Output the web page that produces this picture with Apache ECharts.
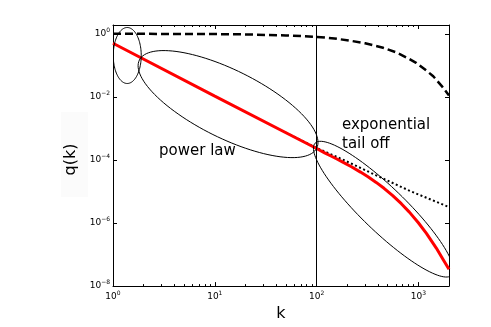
<!DOCTYPE html>
<html>
<head>
<meta charset="utf-8" />
<title>q(k)</title>
<script src="https://cdn.jsdelivr.net/npm/echarts@6/dist/echarts.min.js"></script>
<style>
    html, body { margin: 0; padding: 0; background: #fff; }
    #chart { width: 491px; height: 327px; }
</style>
</head>
<body>
<div id="chart"></div>
<script>
    // values
    const dashK = [1, 5, 10, 20, 50, 100, 150, 210, 300, 450, 600, 800, 950, 1200, 1400, 1700, 2000];
    const dashQ = [1.0, 0.99, 0.98, 0.955, 0.89, 0.80, 0.71, 0.61, 0.50, 0.36, 0.26, 0.165, 0.12, 0.068, 0.045, 0.022, 0.011];

    const redK = [1, 10, 100, 120, 140, 160, 181, 220, 270, 320, 385, 460, 560, 680, 816, 1000, 1200, 1500, 1750, 2000];
    const redQ = [0.5, 0.0106, 2.3e-4, 1.68e-4, 1.31e-4, 1.05e-4, 8.5e-5, 6.07e-5, 4.12e-5, 2.92e-5, 1.94e-5, 1.26e-5,
        7.4e-6, 4.1e-6, 2.22e-6, 1.02e-6, 4.69e-7, 1.61e-7, 7.0e-8, 3.4e-8];

    const dotK = [50, 100, 181, 385, 816, 2000];
    const dotQ = [7.4e-4, 2.4e-4, 1.03e-4, 3.25e-5, 1.06e-5, 3.2e-6];

    const cutoffK = 100;

    // ellipse centres (data coords)
    const ellipseK = [1.38, 13.5, 454];
    const ellipseQ = [0.205, 5.9e-3, 2.75e-6];
    // ellipse shapes in pixels: semi axes and tilt (deg, clockwise on screen)
    const ellipseShape = [
        { a: 14, b: 28, tilt: 0 },
        { a: 99, b: 34, tilt: 26.4 },
        { a: 95, b: 22, tilt: 44 }
    ];

    const xMajor = [1, 10, 100, 1000];
    const xMinor = [2, 3, 4, 5, 6, 7, 8, 9, 20, 30, 40, 50, 60, 70, 80, 90, 200, 300, 400, 500, 600, 700, 800, 900];
    const yMajor = [1e-8, 1e-6, 1e-4, 1e-2, 1];

    const font = 'DejaVu Sans';

    function zip(a, b) {
        return a.map((v, i) => [v, b[i]]);
    }

    function powLabel(v) {
        const e = Math.log10(v);
        const r = Math.round(e);
        if (Math.abs(e - r) > 1e-6) return '';
        return '{b|10}{s|' + (r < 0 ? '\u2212' + (-r) : r) + '}';
    }

    const labelRich = {
        b: { fontSize: 9, fontFamily: font, color: '#000', verticalAlign: 'middle', lineHeight: 13 },
        s: { fontSize: 6, fontFamily: font, color: '#000', verticalAlign: 'top', lineHeight: 13 }
    };

    function xAxisDef(pos, ticks, len, withLine, withLabel) {
        return {
            type: 'log', position: pos, min: 1, max: 2000,
            axisLine: { show: withLine, lineStyle: { color: '#000', width: 1 } },
            axisTick: { show: true, inside: true, length: len, customValues: ticks, lineStyle: { color: '#000' } },
            axisLabel: withLabel ? { show: true, customValues: ticks, formatter: powLabel, rich: labelRich, margin: 4 } : { show: false },
            splitLine: { show: false }
        };
    }

    function yAxisDef(pos, withLabel) {
        return {
            type: 'log', position: pos, min: 1e-8, max: 1.9,
            axisLine: { show: true, lineStyle: { color: '#000', width: 1 } },
            axisTick: { show: true, inside: true, length: 4, customValues: yMajor, lineStyle: { color: '#000' } },
            axisLabel: withLabel ? { show: true, customValues: yMajor, formatter: powLabel, rich: labelRich, margin: 3 } : { show: false },
            splitLine: { show: false }
        };
    }

    const xAxes = [
        xAxisDef('bottom', xMajor, 4, true, true),
        xAxisDef('bottom', xMinor, 2, false, false),
        xAxisDef('top', xMajor, 4, true, false),
        xAxisDef('top', xMinor, 2, false, false)
    ];
    Object.assign(xAxes[0], {
        name: 'k', nameLocation: 'middle', nameGap: 16,
        nameTextStyle: { fontFamily: font, fontSize: 16, color: '#000' }
    });

    const yAxes = [yAxisDef('left', true), yAxisDef('right', false)];
    Object.assign(yAxes[0], {
        name: 'q(k)', nameLocation: 'middle', nameGap: 30, nameRotate: 90,
        nameTextStyle: { fontFamily: font, fontSize: 16, color: '#000', padding: [0, 8, 0, 0] }
    });

    let chart = echarts.init(document.getElementById('chart'), null, { renderer: 'canvas' });

    chart.setOption({
        animation: false,
        backgroundColor: '#fff',
        grid: { left: 113, right: 42, top: 25, bottom: 37 },
        xAxis: xAxes,
        yAxis: yAxes,
        graphic: [
            { type: 'rect', left: 61, top: 112, z: -10, shape: { width: 27, height: 85 }, style: { fill: '#fbfbfb' } },
            {
                type: 'text', left: 159, top: 144, z: 100,
                style: { text: 'power law', fontFamily: font, fontSize: 15, fill: '#000' }
            },
            {
                type: 'text', left: 342, top: 116, z: 100,
                style: { text: 'exponential\ntail off', fontFamily: font, fontSize: 15, lineHeight: 19, fill: '#000' }
            }
        ],
        series: [
            {
                type: 'line', data: zip(dashK, dashQ), showSymbol: false,
                lineStyle: { color: '#000', width: 2.5, type: [8, 4] }, z: 2
            },
            {
                type: 'line', data: zip(dotK, dotQ), showSymbol: false,
                lineStyle: { color: '#000', width: 2, type: [2, 2.5] }, z: 2
            },
            {
                type: 'line', data: zip(redK, redQ), showSymbol: false,
                lineStyle: { color: '#ff0000', width: 3 }, z: 3,
                markLine: {
                    silent: true, symbol: ['none', 'none'], label: { show: false },
                    lineStyle: { color: '#000', width: 1, type: 'solid' },
                    data: [{ xAxis: cutoffK }]
                }
            },
            {
                type: 'custom', clip: true, z: 4,
                data: ellipseK.map((k, i) => [k, ellipseQ[i], i]),
                renderItem: function (params, api) {
                    const c = api.coord([api.value(0), api.value(1)]);
                    const s = ellipseShape[api.value(2)];
                    const t = s.tilt * Math.PI / 180;
                    const pts = [];
                    for (let j = 0; j <= 120; j++) {
                        const u = j / 120 * 2 * Math.PI;
                        const ex = s.a * Math.cos(u), ey = s.b * Math.sin(u);
                        pts.push([c[0] + ex * Math.cos(t) - ey * Math.sin(t), c[1] + ex * Math.sin(t) + ey * Math.cos(t)]);
                    }
                    return {
                        type: 'polygon', shape: { points: pts },
                        style: { fill: 'none', stroke: '#000', lineWidth: 1 }
                    };
                }
            }
        ]
    });
</script>
</body>
</html>
